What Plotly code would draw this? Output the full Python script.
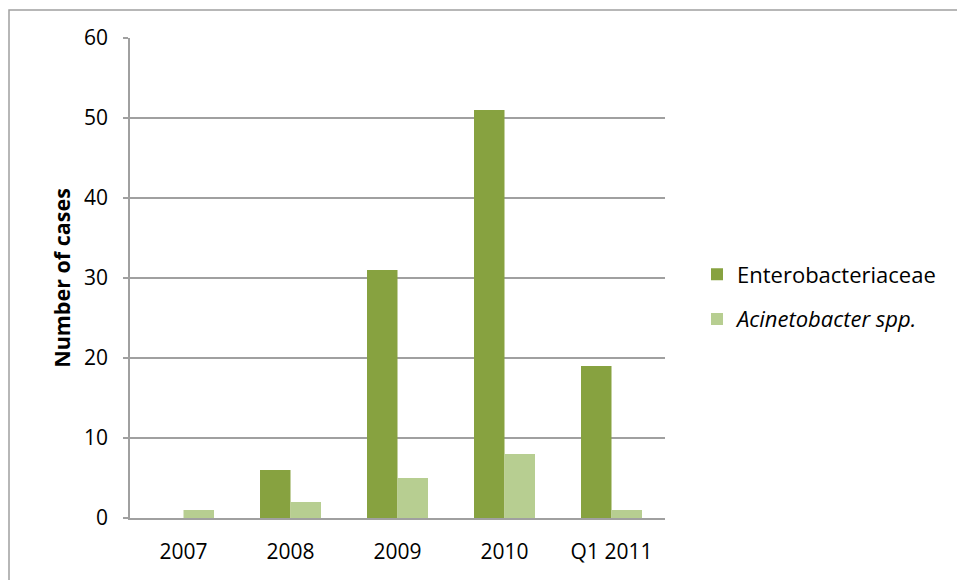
import plotly.graph_objects as go

categories = ["2007", "2008", "2009", "2010", "Q1 2011"]
entero = [0, 6, 31, 51, 19]
acineto = [1, 2, 5, 8, 1]
y_ticks = [0, 10, 20, 30, 40, 50, 60]

W, H = 957, 580
L, R, T, B = 130, 292, 38, 62
pw, ph = W - L - R, H - T - B

def px_x(p):
    return (p - L) / pw

def px_y(p):
    return (H - B - p) / ph

fig = go.Figure()
fig.add_trace(go.Bar(x=categories, y=entero, name="Enterobacteriaceae", legendgroup="a",
                     marker=dict(color="#87A240", line=dict(width=0))))
fig.add_trace(go.Bar(x=categories, y=acineto, name="<i>Acinetobacter spp.</i>", legendgroup="b",
                     marker=dict(color="#B7CE91", line=dict(width=0))))

font = "Open Sans, Noto Sans, sans-serif"
fig.update_layout(
    width=W, height=H,
    margin=dict(l=L, r=R, t=T, b=B, autoexpand=False),
    paper_bgcolor="white", plot_bgcolor="white",
    barmode="group", bargap=0.43, bargroupgap=0,
    font=dict(family=font, size=21, color="black"),
    xaxis=dict(showgrid=False, showline=True, linecolor="#A0A0A0", linewidth=1.5,
               ticks="", tickfont=dict(size=21), ticklabelstandoff=14),
    yaxis=dict(range=[0, 60], tickvals=y_ticks, showgrid=True, gridcolor="#A0A0A0",
               gridwidth=1.5, showline=True, linecolor="#A0A0A0", linewidth=1.5,
               ticks="outside", ticklen=5, tickcolor="#A0A0A0", tickwidth=1.5,
               tickfont=dict(size=21), zeroline=False, ticklabelstandoff=11,
               title=dict(text="<b>Number of cases</b>", font=dict(size=21.5), standoff=8)),
    legend=dict(x=px_x(697), y=px_y(297), xanchor="left", yanchor="middle",
                font=dict(size=22), traceorder="grouped", tracegroupgap=13, itemwidth=30,
                bgcolor="rgba(0,0,0,0)"),
    shapes=[dict(type="rect", xref="paper", yref="paper",
                 x0=px_x(9), x1=px_x(1100), y0=px_y(700), y1=px_y(10),
                 line=dict(color="#A0A0A0", width=1.5), layer="below")],
)

fig.write_html("out.html")
